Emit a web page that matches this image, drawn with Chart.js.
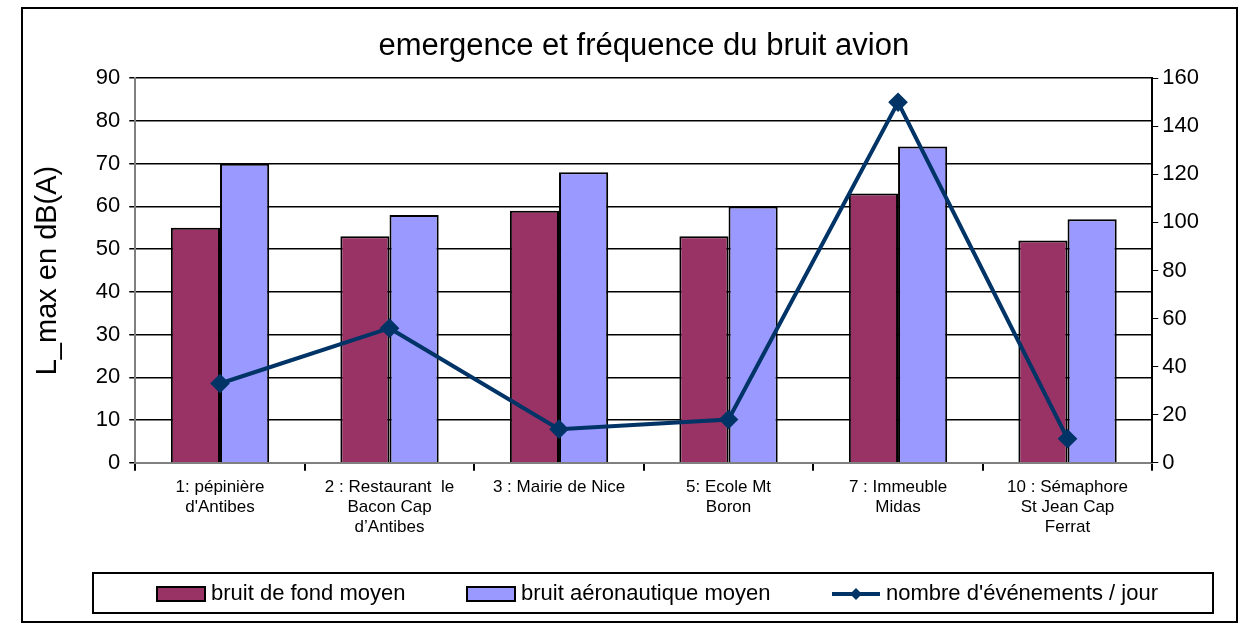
<!DOCTYPE html>
<html>
<head>
<meta charset="utf-8">
<script src="https://cdn.jsdelivr.net/npm/chart.js@4"></script>
<style>
  body { margin: 0; background: #fff; }
  #wrap { width: 1255px; height: 631px; }
</style>
</head>
<body>
<div id="wrap"><canvas id="chart"></canvas></div>
<script>
// chart data
const categories = [
  ["1: pépinière", "d'Antibes"],
  ["2 : Restaurant  le", "Bacon Cap", "d’Antibes"],
  ["3 : Mairie de Nice"],
  ["5: Ecole Mt", "Boron"],
  ["7 : Immeuble", "Midas"],
  ["10 : Sémaphore", "St Jean Cap", "Ferrat"]
];
const bruitFond = [55, 53, 59, 53, 63, 52];
const bruitAero = [70, 58, 68, 60, 74, 57];
const evenements = [33, 56, 14, 18, 150, 10];
const leftTicks = [0, 90, 10];
const rightTicks = [0, 160, 20];

const FONT = "'Liberation Sans', Arial, sans-serif";

// frame round the whole chart + boxed legend at the bottom
const framePlugin = {
  id: "frame",
  afterDraw(chart) {
    const ctx = chart.ctx;
    ctx.save();
    ctx.strokeStyle = "#000";
    ctx.lineWidth = 2;
    ctx.strokeRect(22, 8, 1215, 614);

    // legend box
    ctx.strokeRect(93, 573, 1120, 40);
    ctx.font = "22px " + FONT;
    ctx.textBaseline = "middle";
    const y = 594;
    const ds = chart.data.datasets;
    const items = [
      { x: 157, ds: ds[1] },
      { x: 467, ds: ds[2] },
      { x: 832, ds: ds[0] }
    ];
    items.forEach((it) => {
      if (it.ds.type === "line") {
        ctx.strokeStyle = it.ds.borderColor;
        ctx.lineWidth = 4;
        ctx.beginPath();
        ctx.moveTo(it.x, y);
        ctx.lineTo(it.x + 48, y);
        ctx.stroke();
        ctx.fillStyle = it.ds.borderColor;
        ctx.beginPath();
        ctx.moveTo(it.x + 24, y - 6);
        ctx.lineTo(it.x + 30, y);
        ctx.lineTo(it.x + 24, y + 6);
        ctx.lineTo(it.x + 18, y);
        ctx.closePath();
        ctx.fill();
      } else {
        ctx.fillStyle = it.ds.backgroundColor;
        ctx.fillRect(it.x, y - 7, 48, 14);
        ctx.strokeStyle = "#000";
        ctx.lineWidth = 2;
        ctx.strokeRect(it.x, y - 7, 48, 14);
      }
      ctx.fillStyle = "#000";
      ctx.fillText(it.ds.label, it.x + 54, y);
    });
    ctx.restore();
  }
};

const ctx = document.querySelector("#chart").getContext("2d");

new Chart(ctx, {
  data: {
    labels: categories,
    datasets: [
      {
        type: "line",
        label: "nombre d'événements / jour",
        data: evenements,
        yAxisID: "y1",
        borderColor: "#003366",
        backgroundColor: "#003366",
        borderWidth: 4,
        pointStyle: "rectRot",
        pointRadius: 7,
        pointHoverRadius: 7,
        tension: 0,
        order: 0
      },
      {
        type: "bar",
        label: "bruit de fond moyen",
        data: bruitFond,
        yAxisID: "y",
        backgroundColor: "#993366",
        borderColor: "#000",
        borderWidth: 2,
        categoryPercentage: 0.58,
        barPercentage: 1.0,
        order: 1
      },
      {
        type: "bar",
        label: "bruit aéronautique moyen",
        data: bruitAero,
        yAxisID: "y",
        backgroundColor: "#9999FF",
        borderColor: "#000",
        borderWidth: 2,
        categoryPercentage: 0.58,
        barPercentage: 1.0,
        order: 1
      }
    ]
  },
  options: {
    responsive: true,
    maintainAspectRatio: false,
    animation: false,
    layout: { padding: { left: 27, right: 52, top: 14, bottom: 87 } },
    plugins: {
      legend: { display: false },
      tooltip: { enabled: false },
      title: {
        display: true,
        fullSize: false,
        text: "emergence et fréquence du bruit avion",
        color: "#000",
        font: { family: FONT, size: 31, weight: "normal" },
        padding: { top: 14, bottom: 13 }
      }
    },
    scales: {
      x: {
        grid: {
          offset: true,
          drawOnChartArea: false,
          color: "#000",
          lineWidth: 2,
          tickLength: 8
        },
        border: { color: "#808080", width: 2 },
        ticks: {
          color: "#000",
          maxRotation: 0,
          autoSkip: false,
          padding: 6,
          font: { family: FONT, size: 17 }
        }
      },
      y: {
        position: "left",
        min: leftTicks[0],
        max: leftTicks[1],
        ticks: {
          stepSize: leftTicks[2],
          color: "#000",
          padding: 9,
          font: { family: FONT, size: 22 }
        },
        grid: { color: "#000", lineWidth: 1.5, tickLength: 6 },
        border: { color: "#808080", width: 2 },
        title: {
          display: true,
          text: "L_max en dB(A)",
          color: "#000",
          font: { family: FONT, size: 29 },
          padding: { bottom: 21 }
        }
      },
      y1: {
        position: "right",
        min: rightTicks[0],
        max: rightTicks[1],
        ticks: {
          stepSize: rightTicks[2],
          color: "#000",
          padding: 4,
          font: { family: FONT, size: 22 }
        },
        grid: { drawOnChartArea: false, color: "#000", tickLength: 6 },
        border: { color: "#000", width: 2 }
      }
    }
  },
  plugins: [framePlugin]
});
</script>
</body>
</html>
